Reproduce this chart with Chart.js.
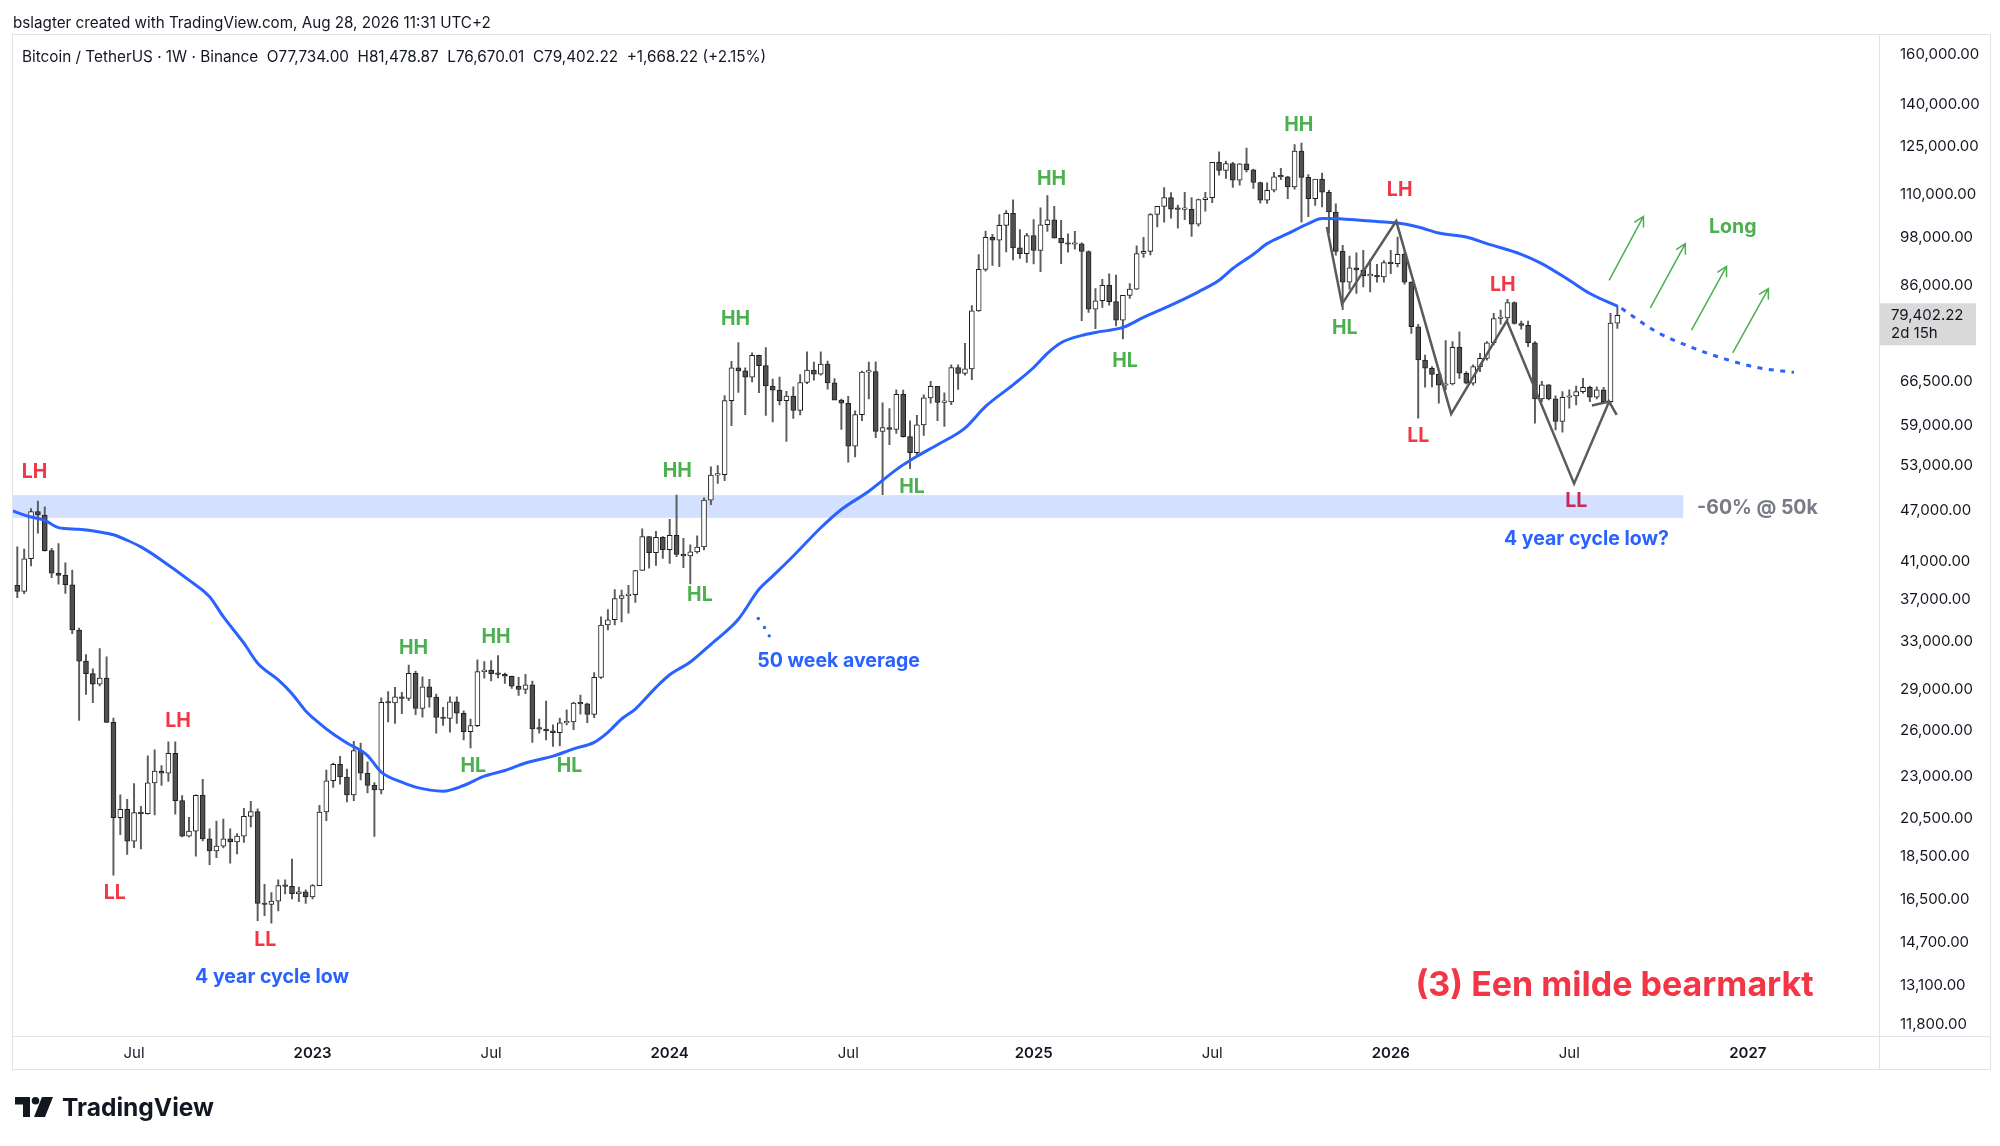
<!DOCTYPE html>
<html>
<head>
<meta charset="utf-8">
<title>BTCUSDT 1W</title>
<script src="https://cdn.jsdelivr.net/npm/chart.js@4.4.1/dist/chart.umd.min.js"></script>
<style>
    html, body { margin: 0; padding: 0; background: #fff; }
    #wrap { position: relative; width: 2000px; height: 1146px; overflow: hidden; font-family: Inter, "Noto Sans", sans-serif; color: #131722; }
    #btc { position: absolute; left: 0; top: 0; }
    .txt { position: absolute; white-space: pre; line-height: 1.2; }
    #logo { position: absolute; left: 15px; top: 1097px; }
</style>
</head>
<body>
<div id="wrap">
    <canvas id="btc" width="2000" height="1146"></canvas>
    <div class="txt" id="credit" style="left:13px;font-size:15px;">bslagter created with TradingView.com, Aug 28, 2026 11:31 UTC+2</div>
    <div class="txt" id="legend" style="left:22px;font-size:17px;">Bitcoin / TetherUS · 1W · Binance  O77,734.00  H81,478.87  L76,670.01  C79,402.22  +1,668.22 (+2.15%)</div>
    <svg id="logo" width="38" height="20" viewBox="0 0 38 20">
        <path d="M0 0 H15 V20 H8 V7.5 H0 Z" fill="#131722"/>
        <circle cx="20.5" cy="3.8" r="3.8" fill="#131722"/>
        <path d="M27 0 H38 L30 20 H19 Z" fill="#131722"/>
    </svg>
    <div class="txt" id="brand" style="left:62px;font-size:26px;font-weight:700;">TradingView</div>
</div>

<script>
// weekly candles, week 0 = Mon 7 Mar 2022 (Binance BTCUSDT, 1W)
var candleOpen = [
    38420,37780,41260,46830,46410,42160,39680,39450,38470,34060,
    31330,30290,29450,29920,26570,20560,21030,19300,20840,20790,
    22580,23300,23170,24440,21530,19560,19830,21830,19420,18800,
    19050,19420,19260,19570,20630,20900,16330,16280,16430,17130,
    17090,16760,16840,16610,17130,20880,22710,23740,22940,21860,
    24630,23170,22430,22160,28040,27990,28450,28330,30310,27590,
    29230,28430,26920,26850,28070,27230,25910,26340,30460,30580,
    30290,30230,30080,29280,29040,29400,26100,26090,25970,25840,
    26530,26600,27990,27920,27150,29990,34520,35010,37070,37360,
    37450,39970,43780,41930,43700,42280,43950,41730,41580,42030,
    42580,48300,51660,51730,63110,68960,68390,67210,71280,69360,
    65660,64940,63120,63890,61480,66270,68510,67770,69650,66210,
    63210,62680,55860,60790,68160,68250,58120,58710,58420,64220,
    57300,54870,59130,63580,65600,62820,62900,69000,67930,68740,
    80370,89850,97900,97190,101110,104460,95190,93720,98360,94520,
    101300,102620,97690,96460,96120,96250,94270,80730,82580,86080,
    82390,78370,83760,85180,93750,94280,104120,106450,109000,105640,
    105590,105590,101460,108380,108920,119840,117270,119450,114200,119300,
    117410,113490,108250,111140,115270,115230,112160,123500,115070,108650,
    114500,110540,104830,94280,86830,90240,89700,88300,88440,88050,
    91500,91260,93560,86830,76990,70410,68860,67750,65790,66030,
    72850,67940,66140,69170,70720,73760,78730,78870,82190,77680,
    77270,73760,63410,65850,63410,59680,63700,63920,64680,65430,
    63700,64970,62960,77734
];
var candleHigh = [
    42590,42330,47200,48190,47440,42420,42980,40800,40020,34240,
    31880,30690,32400,31700,26880,21870,21600,22530,21200,24280,
    24670,23650,25210,25210,21820,20580,21860,22800,19960,20380,
    20480,19950,19700,21090,21480,21050,17190,16810,17400,17400,
    18390,17060,16940,17180,21260,23370,23820,24250,23440,25250,
    25130,23900,22600,28390,28870,29190,28800,31000,30500,30040,
    29820,28660,27660,28450,28450,27400,26800,31430,31280,31380,
    31800,30340,30100,30000,30240,29690,26800,28140,26400,26880,
    27480,28050,28600,27990,30380,35280,35980,37980,37930,38420,
    40000,44700,43780,44400,43800,45880,48970,43580,42840,43880,
    48600,52820,52990,64000,70170,73780,68920,71770,71340,72800,
    66870,67230,64740,65500,67700,71980,70000,71950,70200,66990,
    63370,63860,61400,68360,70000,70080,62750,61800,65000,64950,
    59800,60670,64130,66500,65600,64480,69500,69520,73620,81500,
    93480,99590,98700,104090,105250,108350,99960,99000,102720,106000,
    109590,106460,102500,98830,99500,96500,94420,85300,87450,88770,
    88500,83590,86450,95700,97900,104360,105820,111980,110420,106800,
    110530,108950,108520,110530,119490,123220,120250,119800,119450,124470,
    117630,113600,113380,116670,117900,115400,125700,126200,115970,114000,
    116400,111100,107180,95850,93100,93900,94570,92230,91090,92000,
    94570,98000,94150,86900,77500,71360,69170,68000,74160,73960,
    75970,68250,69480,71690,73960,79800,80510,82860,82340,78180,
    78180,74000,66500,65900,63920,64680,64970,65660,67030,65660,
    65500,65430,79800,81478.87
];
var candleLow = [
    37160,37560,40470,44200,42110,39200,38540,37580,33720,26700,
    28650,28020,29300,26560,17620,19640,18630,18970,18910,20750,
    20710,22420,22660,20760,19520,19520,18540,19320,18120,18470,
    18960,18190,18650,19240,20050,15590,15800,15480,16000,16750,
    16530,16400,16330,16530,17130,20400,22300,22500,21450,21530,
    22760,21970,19550,21920,26600,26500,27200,28170,27130,26940,
    27680,25810,26360,25880,26500,25350,24800,26260,29930,29700,
    29950,29500,29100,28570,28700,25170,25800,25340,24900,24930,
    26390,26050,27170,26540,26900,29900,34080,34520,34800,35630,
    36680,39970,40220,40530,41300,40750,41500,40280,38550,41880,
    42260,47710,50520,50900,59000,64530,60780,66380,64500,60660,
    59600,62390,56550,60180,60750,66060,66670,67600,65080,63380,
    58400,53480,54260,59800,63400,57120,49000,56080,57800,57200,
    52550,54580,57490,62680,59800,58900,62450,65060,67600,66800,
    80220,89380,90790,90500,94150,92180,92500,91530,91200,89260,
    99500,97800,91230,94090,94870,78250,80000,76600,81130,81570,
    77150,74500,83100,85140,92800,93400,100720,102000,103100,100370,
    102660,98200,100920,105100,107470,115740,114720,112000,112650,116800,
    111680,107350,107270,110620,114380,108650,111500,102000,103530,106700,
    106300,99000,93310,80600,85200,84200,85710,84580,86830,86830,
    88800,90430,86320,75630,60220,65430,65500,62680,65000,65850,
    67000,66030,65800,68250,70400,73300,77540,78390,77540,76500,
    72970,59410,62900,63240,58350,57980,61840,62410,64390,62960,
    63400,62700,62680,76670.01
];
var candleClose = [
    37780,41260,46830,46410,42160,39680,39450,38470,34060,31330,
    30290,29450,29920,26570,20560,21030,19300,20840,20790,22580,
    23300,23170,24440,21530,19560,19830,21830,19420,18800,19050,
    19420,19260,19570,20630,20900,16330,16280,16430,17130,17090,
    16760,16840,16610,17130,20880,22710,23740,22940,21860,24630,
    23170,22430,22160,28040,27990,28450,28330,30310,27590,29230,
    28430,26920,26850,28070,27230,25910,26340,30460,30580,30290,
    30230,30080,29280,29040,29400,26100,26090,25970,25840,26530,
    26600,27990,27920,27150,29990,34520,35010,37070,37360,37450,
    39970,43780,41930,43700,42280,43950,41730,41580,42030,42580,
    48300,51660,51730,63110,68960,68390,67210,71280,69360,65660,
    64940,63120,63890,61480,66270,68510,67770,69650,66210,63210,
    62680,55860,60790,68160,68250,58120,58710,58420,64220,57300,
    54870,59130,63580,65600,62820,62900,69000,67930,68740,80370,
    89850,97900,97190,101110,104460,95190,93720,98360,94520,101300,
    102620,97690,96460,96120,96250,94270,80730,82580,86080,82390,
    78370,83760,85180,93750,94280,104120,106450,109000,105640,105590,
    105590,101460,108380,108920,119840,117270,119450,114200,119300,117410,
    113490,108250,111140,115270,115230,112160,123500,115070,108650,114500,
    110540,104830,94280,86830,90240,89700,88300,88440,88050,91500,
    91260,93560,86830,76990,70410,68860,67750,65790,66030,72850,
    67940,66140,69170,70720,73760,78730,78870,82190,77680,77270,
    73760,63410,65850,63410,59680,63700,63920,64680,65430,63700,
    64970,62960,77734,79402.22
];

// 50 week average (week index, price)
var maWeek = [-1,2,4,6,9,12,14,16,18,21,25,28,30,33,35,38,40,42,44,46,48,51,53,56,58,62,65,68,71,74,78,81,84,86,88,90,93,95,98,101,105,108,110,113,117,120,124,128,131,134,138,141,145,148,150,152,155,157,161,164,168,172,175,177,180,182,185,188,190,193,197,201,204,207,211,214,219,222,226,229,233];
var maValue = [47000,46160,45750,44860,44660,44340,44000,43360,42590,41100,38950,37250,35300,32870,31150,29780,28700,27400,26500,25750,25140,24300,23240,22620,22320,22080,22420,22990,23340,23820,24260,24740,25180,25870,26810,27540,29190,30200,31250,32780,35060,38000,39380,41560,44840,47100,49470,52430,54340,56060,58630,62140,65850,69000,71690,73760,75220,75830,76850,78960,81600,84580,87240,90040,93560,96280,98890,101600,103000,102900,102300,101760,100680,99060,98010,96280,93560,91260,87240,84200,81390];

// dotted projection of the average
var projWeek = [233.6, 238.7, 243.6, 248.4, 253.3, 258.7];
var projValue = [80900, 75960, 72950, 70710, 69010, 68100];

// hand drawn zigzag (grey)
var zigzagWeek = [190.7, 192.9, 200.8, 208.8, 216.9, 226.7, 231.8, 232.9];
var zigzagPrice = [100680, 81830, 102300, 60910, 78250, 50490, 62960, 60750];
var zigzagTailWeek = [229.3, 231.8];
var zigzagTailPrice = [62300, 62960];

// dots pointing from "50 week average" to the line
var leaderWeek = [107.9, 108.8, 109.5];
var leaderPrice = [35130, 34290, 33530];

// green "Long" arrows: from -> to
var arrowFromWeek = [231.8, 237.8, 243.8, 249.8];
var arrowFromPrice = [87240, 81000, 76300, 71790];
var arrowToWeek = [236.8, 242.9, 248.9, 255.0];
var arrowToPrice = [103580, 96260, 90570, 85310];

// -60% zone
var bandLow = 46050, bandHigh = 48950, bandEndWeek = 242.6;

var xTickWeek = [17, 43, 69, 95, 121, 148, 174, 200, 226, 252];
var xTickLabel = ['Jul', '2023', 'Jul', '2024', 'Jul', '2025', 'Jul', '2026', 'Jul', '2027'];
var yTickValue = [160000, 140000, 125000, 110000, 98000, 86000, 76000, 66500, 59000, 53000, 47000, 41000, 37000, 33000, 29000, 26000, 23000, 20500, 18500, 16500, 14700, 13100, 11800];

var lastPrice = 79402.22;

var GREEN = '#4caf50', RED = '#f23645', BLUE = '#2962ff';
var notes = [
    ['LH', 2.5, 52090, RED], ['LL', 14.2, 16780, RED], ['LH', 23.4, 26680, RED], ['LL', 36.1, 14780, RED],
    ['4 year cycle low', 37.1, 13390, BLUE],
    ['HH', 57.7, 32480, GREEN], ['HH', 69.7, 33450, GREEN], ['HL', 66.4, 23590, GREEN], ['HL', 80.4, 23640, GREEN],
    ['HH', 96.1, 52250, GREEN], ['HL', 99.4, 37450, GREEN], ['HH', 104.6, 78540, GREEN], ['HL', 130.3, 50040, GREEN],
    ['50 week average', 119.6, 31330, BLUE],
    ['HH', 150.6, 114600, GREEN], ['HL', 161.3, 70220, GREEN], ['HH', 186.6, 132560, GREEN],
    ['LH', 201.3, 111060, RED], ['HL', 193.3, 76670, GREEN], ['LL', 204.0, 57340, RED],
    ['LH', 216.3, 86130, RED], ['LL', 227.0, 48140, '#c8285a'],
    ['4 year cycle low?', 228.5, 43480, BLUE], ['-60% @ 50k', 253.4, 47210, '#787b86'],
    ['Long', 249.8, 100660, GREEN]
];

function pts(xs, ys) {
    return xs.map(function(v, i) { return {x: v, y: ys[i]}; });
}

var weeks = candleClose.map(function(v, i) { return i; });
var bodies = weeks.map(function(i) { return {x: i, y: [candleOpen[i], candleClose[i]]}; });
var wicks = weeks.map(function(i) { return {x: i, y: [candleLow[i], candleHigh[i]]}; });
var bodyFill = weeks.map(function(i) { return candleClose[i] >= candleOpen[i] ? '#ffffff' : '#505050'; });

var overlay = {
    id: 'overlay',
    beforeDatasetsDraw: function(chart) {
        var ctx = chart.ctx, a = chart.chartArea, x = chart.scales.x, y = chart.scales.y;
        var yt = y.getPixelForValue(bandHigh), yb = y.getPixelForValue(bandLow);
        ctx.save();
        ctx.fillStyle = 'rgba(41,98,255,0.2)';
        ctx.fillRect(a.left, yt, x.getPixelForValue(bandEndWeek) - a.left, yb - yt);
        ctx.restore();
    },
    afterDatasetsDraw: function(chart) {
        var ctx = chart.ctx, x = chart.scales.x, y = chart.scales.y;
        ctx.save();
        // arrows
        ctx.strokeStyle = GREEN;
        ctx.lineWidth = 1.5;
        arrowFromWeek.forEach(function(w, i) {
            var x1 = x.getPixelForValue(w), y1 = y.getPixelForValue(arrowFromPrice[i]);
            var x2 = x.getPixelForValue(arrowToWeek[i]), y2 = y.getPixelForValue(arrowToPrice[i]);
            var ang = Math.atan2(y2 - y1, x2 - x1);
            ctx.beginPath();
            ctx.moveTo(x1, y1);
            ctx.lineTo(x2, y2);
            ctx.moveTo(x2 - 11 * Math.cos(ang - 0.5), y2 - 11 * Math.sin(ang - 0.5));
            ctx.lineTo(x2, y2);
            ctx.lineTo(x2 - 11 * Math.cos(ang + 0.5), y2 - 11 * Math.sin(ang + 0.5));
            ctx.stroke();
        });
        // labels
        ctx.textAlign = 'center';
        ctx.textBaseline = 'middle';
        ctx.font = '700 19.5px Inter, sans-serif';
        notes.forEach(function(n) {
            ctx.fillStyle = n[3];
            ctx.fillText(n[0], x.getPixelForValue(n[1]), y.getPixelForValue(n[2]));
        });
        ctx.font = '700 34px Inter, sans-serif';
        ctx.fillStyle = RED;
        ctx.fillText('(3) Een milde bearmarkt', x.getPixelForValue(232.6), y.getPixelForValue(13100));
        ctx.restore();
    },
    afterDraw: function(chart) {
        var ctx = chart.ctx, y = chart.scales.y;
        ctx.save();
        // frame
        ctx.strokeStyle = '#e0e3eb';
        ctx.lineWidth = 1;
        ctx.beginPath();
        ctx.rect(12.5, 34.5, 1978, 1035);
        ctx.moveTo(1879.5, 34.5); ctx.lineTo(1879.5, 1069.5);
        ctx.moveTo(12.5, 1036.5); ctx.lineTo(1990.5, 1036.5);
        ctx.stroke();
        // last price box
        var py = y.getPixelForValue(lastPrice);
        ctx.fillStyle = '#d9d9d9';
        ctx.fillRect(1880, py - 12, 96, 42);
        ctx.fillStyle = '#131722';
        ctx.textAlign = 'left';
        ctx.textBaseline = 'middle';
        ctx.font = '15px Inter, sans-serif';
        ctx.fillText('79,402.22', 1891, py);
        ctx.fillText('2d 15h', 1891, py + 18);
        ctx.restore();
    }
};

var chart = new Chart(document.getElementById('btc').getContext('2d'), {
    type: 'bar',
    data: {
        datasets: [
            {
                label: 'body', data: bodies, order: 4, grouped: false,
                backgroundColor: bodyFill, borderColor: '#202020', borderWidth: 1,
                barThickness: 5, minBarLength: 1.5, borderSkipped: false
            },
            {
                label: 'wick', data: wicks, order: 5, grouped: false,
                backgroundColor: '#5c5c5c', borderWidth: 0, barThickness: 1.3
            },
            {
                type: 'line', label: '50W', data: pts(maWeek, maValue), order: 2,
                borderColor: BLUE, borderWidth: 3, pointRadius: 0, cubicInterpolationMode: 'monotone'
            },
            {
                type: 'line', label: 'proj', data: pts(projWeek, projValue), order: 2,
                borderColor: BLUE, borderWidth: 3, borderDash: [5, 6.5], pointRadius: 0, cubicInterpolationMode: 'monotone'
            },
            {
                type: 'line', label: 'zigzag', data: pts(zigzagWeek, zigzagPrice), order: 1,
                borderColor: '#5a5a5a', borderWidth: 2.5, pointRadius: 0, tension: 0
            },
            {
                type: 'line', label: 'zigzag2', data: pts(zigzagTailWeek, zigzagTailPrice), order: 1,
                borderColor: '#5a5a5a', borderWidth: 2.5, pointRadius: 0, tension: 0
            },
            {
                type: 'line', label: 'leader', data: pts(leaderWeek, leaderPrice), order: 1,
                showLine: false, pointRadius: 1.7, pointBorderWidth: 0, pointBackgroundColor: BLUE
            }
        ]
    },
    options: {
        responsive: false,
        animation: false,
        devicePixelRatio: 1,
        layout: { padding: { left: 12.5, top: 34, right: 9, bottom: 76 } },
        plugins: { legend: { display: false }, tooltip: { enabled: false } },
        scales: {
            x: {
                type: 'linear', min: -0.7, max: 271.1, offset: false,
                grid: { display: false }, border: { display: false },
                afterBuildTicks: function(s) { s.ticks = xTickWeek.map(function(v) { return {value: v}; }); },
                afterFit: function(s) { s.height = 34; },
                ticks: {
                    autoSkip: false, maxRotation: 0, padding: 0, color: '#131722',
                    callback: function(v, i) { return xTickLabel[i]; },
                    font: function(c) {
                        var year = /^\d/.test(xTickLabel[c.index] || '');
                        return { family: 'Inter', size: 15, weight: year ? '600' : '400' };
                    }
                }
            },
            y: {
                type: 'logarithmic', position: 'right', min: 11430, max: 169200,
                grid: { display: false }, border: { display: false },
                afterBuildTicks: function(s) { s.ticks = yTickValue.map(function(v) { return {value: v}; }); },
                afterFit: function(s) { s.width = 112; },
                ticks: {
                    autoSkip: false, padding: 13, color: '#131722',
                    font: { family: 'Inter', size: 15 },
                    callback: function(v) { return Number(v).toLocaleString('en-US', {minimumFractionDigits: 2, maximumFractionDigits: 2}); }
                }
            }
        }
    },
    plugins: [overlay]
});

// size the header / logo texts to the measured widths
function fit(id, width, centerY) {
    var el = document.getElementById(id);
    var w = el.getBoundingClientRect().width;
    var fs = parseFloat(getComputedStyle(el).fontSize);
    el.style.fontSize = (fs * width / w) + 'px';
    el.style.top = (centerY - el.getBoundingClientRect().height / 2) + 'px';
}
fit('credit', 478, 23);
fit('legend', 745, 57);
fit('brand', 152, 1108);
</script>
</body>
</html>
